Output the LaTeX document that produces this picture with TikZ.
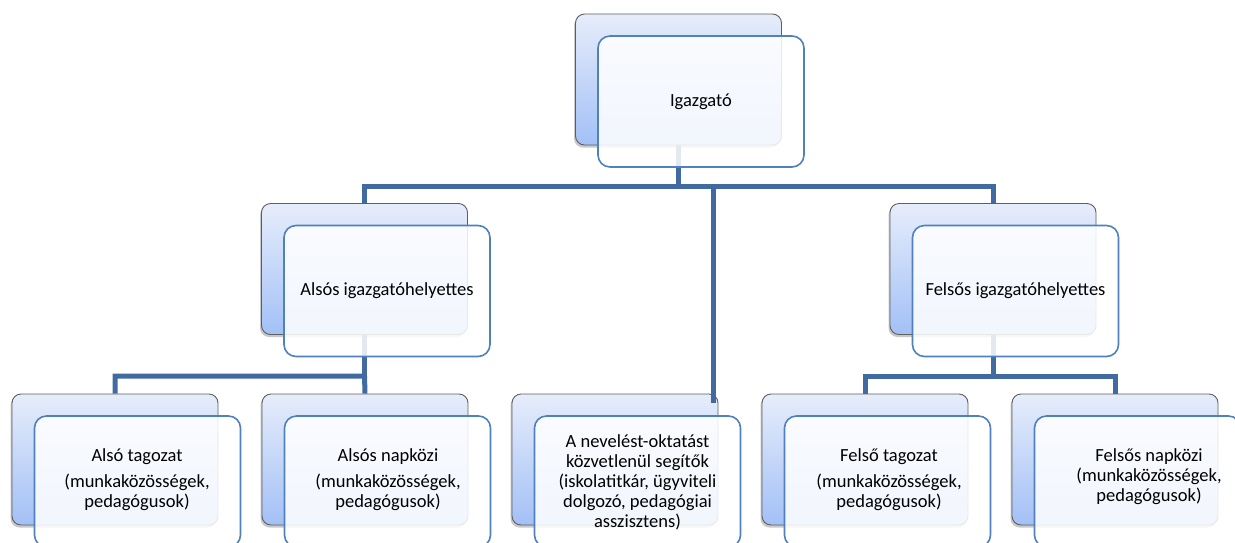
\documentclass[tikz,border=0pt]{standalone}
\usepackage{fontspec}
\setmainfont{Carlito}
\usetikzlibrary{shadows,calc}
\definecolor{conn}{RGB}{65,106,160}
\definecolor{backtop}{RGB}{230,237,251}
\definecolor{backbot}{RGB}{163,192,246}
\definecolor{backedge}{RGB}{95,95,95}
\definecolor{frontedge}{RGB}{79,129,189}
\begin{document}
\begin{tikzpicture}[x=1pt,y=-1pt,
  backbox/.style={rectangle, rounded corners=9pt, draw=backedge, line width=0.9pt,
    top color=backtop, bottom color=backbot, minimum width=206pt, minimum height=131pt,
    inner sep=0pt, drop shadow={shadow xshift=-1.5pt, shadow yshift=-2.5pt, opacity=0.3, fill=black!70}},
  frontbox/.style={rectangle, rounded corners=12pt, draw=frontedge, line width=1.6pt,
    fill=white, fill opacity=0.86, draw opacity=1, minimum width=206pt, minimum height=131pt, inner sep=0pt},
  txt/.style={align=center, font=\fontsize{18.5}{20}\selectfont, inner sep=0pt, text=black},
  conline/.style={draw=conn, line width=5pt}]
\useasboundingbox (0,0) rectangle (1235,542);
\clip (0,0) rectangle (1235,542);
\fill[white] (0,0) rectangle (1235,542);

% back boxes
\node[backbox] (b0) at (678.5,79.5) {};
\node[backbox] (b1) at (364.5,269) {};
\node[backbox] (b2) at (993,269) {};
\node[backbox] (c1) at (115,459.5) {};
\node[backbox] (c2) at (365,459.5) {};
\node[backbox] (c3) at (615,459.5) {};
\node[backbox] (c4) at (865,459.5) {};
\node[backbox] (c5) at (1115,459.5) {};

% junction coordinates
\coordinate (j0) at (678.5,186);
\coordinate (j3) at (713,186);
\coordinate (e3) at (713,403);
\coordinate (j1) at (364.5,376);
\coordinate (j2) at (993,376);

% connectors
\draw[conline] (b1.north) |- (j0) -| (b2.north);
\draw[conline] (b0.south) -- (j0);
\draw[conline] (j3) -- (e3);
\draw[conline] (c1.north) |- (j1) -- (c2.north);
\draw[conline] (b1.south) -- (j1);
\draw[conline] (c4.north) |- (j2) -| (c5.north);
\draw[conline] (b2.south) -- (j2);

% front boxes
\node[frontbox] (f0) at (701,101.5) {};
\node[frontbox] (f1) at (387,291) {};
\node[frontbox] (f2) at (1015.5,291) {};
\node[frontbox] (g1) at (137.5,481.5) {};
\node[frontbox] (g2) at (387.5,481.5) {};
\node[frontbox] (g3) at (637.5,481.5) {};
\node[frontbox] (g4) at (887.5,481.5) {};
\node[frontbox] (g5) at (1137.5,481.5) {};

% texts
\node[txt] (t0) at (f0) {Igazgató};
\node[txt] (t1) at (f1) {Alsós igazgatóhelyettes};
\node[txt] (t2) at (f2) {Felsős igazgatóhelyettes};
\node[txt] (u1) at (137,480) {Alsó tagozat\\[6pt](munkaközösségek,\\pedagógusok)};
\node[txt] (u2) at (388,480) {Alsós napközi\\[6pt](munkaközösségek,\\pedagógusok)};
\node[txt] (u3) at (637.5,482) {A nevelést-oktatást\\közvetlenül segítők\\(iskolatitkár, ügyviteli\\dolgozó, pedagógiai\\asszisztens)};
\node[txt] (u4) at (889,480) {Felső tagozat\\[6pt](munkaközösségek,\\pedagógusok)};
\node[txt] (u5) at (1149,477) {Felsős napközi\\(munkaközösségek,\\pedagógusok)};
\end{tikzpicture}
\end{document}
